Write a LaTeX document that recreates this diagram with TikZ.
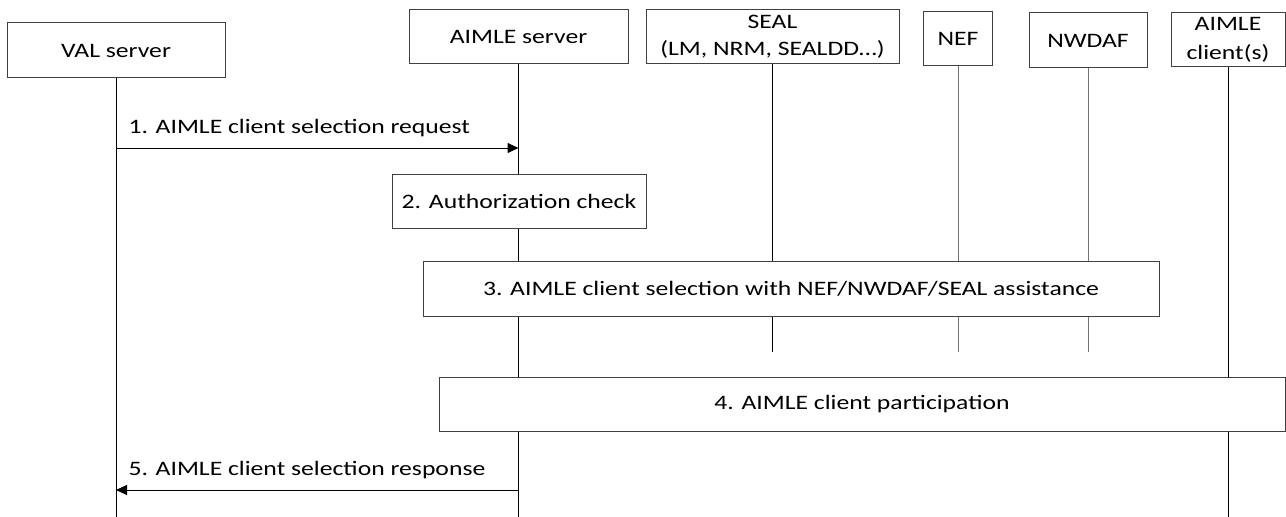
\documentclass[tikz,border=0pt]{standalone}
\usepackage{fontspec}
\setmainfont{Carlito}[FakeStretch=1.25]
\usetikzlibrary{arrows.meta}

\begin{document}
\begin{tikzpicture}[x=0.75pt,y=-0.75pt,>={Triangle[length=8.25pt,width=7.5pt]},
	font=\fontsize{15.4}{20.3}\selectfont,
	entity/.style={draw=black!75,fill=white,line width=0.75pt,align=center,inner sep=0pt},
	stepbox/.style={draw=black!75,fill=white,line width=0.75pt,inner sep=0pt},
	lifeline/.style={line width=0.75pt},
	greyline/.style={line width=0.75pt,draw=black!55},
	msglabel/.style={anchor=base west,inner sep=0pt,xshift=9pt,yshift=11.25pt}]
	\useasboundingbox (0,0) rectangle (1286,517);

	\node[entity,minimum width=163.5pt,minimum height=41.25pt] (VAL) at (116,50.5) {VAL server};
	\node[entity,minimum width=164.25pt,minimum height=40.5pt] (AIMLE) at (518.5,37) {AIMLE server};
	\node[entity,minimum width=189.75pt,minimum height=40.5pt] (SEAL) at (772.5,37) {SEAL\\(LM, NRM, SEALDD…)};
	\node[entity,minimum width=51.75pt,minimum height=40.5pt] (NEF) at (958,39) {NEF};
	\node[entity,minimum width=88.5pt,minimum height=41.25pt] (NWDAF) at (1088,40.5) {NWDAF};
	\node[entity,minimum width=85.5pt,minimum height=40.5pt,font=\fontsize{15.4}{22}\selectfont] (CLIENT) at (1228,40) {AIMLE\\client(s)};

	\coordinate (bottom) at (0,517);
	\coordinate (mid) at (0,352);
	\coordinate (m1) at (0,148);
	\coordinate (m5) at (0,490);

	\draw[lifeline] (VAL.south) -- (VAL.south |- bottom);
	\draw[lifeline] (AIMLE.south) -- (AIMLE.south |- bottom);
	\draw[lifeline] (SEAL.south) -- (SEAL.south |- mid);
	\draw[greyline] (NEF.south) -- (NEF.south |- mid);
	\draw[greyline] (NWDAF.south) -- (NWDAF.south |- mid);
	\draw[lifeline] (CLIENT.south) -- (CLIENT.south |- bottom);

	\draw[->,lifeline] (VAL.south |- m1) -- node[msglabel,pos=0] {1. AIMLE client selection request} (AIMLE.south |- m1);

	\node[stepbox,minimum width=190.5pt,minimum height=40.5pt] (AUTH) at (519,201) {2. Authorization check};
	\node[stepbox,minimum width=552pt,minimum height=41.25pt] (SELECT) at (791,288.5) {3. AIMLE client selection with NEF/NWDAF/SEAL assistance};
	\node[stepbox,minimum width=634.5pt,minimum height=40.5pt] (PART) at (862,404) {4. AIMLE client participation};

	\draw[->,lifeline] (AIMLE.south |- m5) -- node[msglabel,pos=1] {5. AIMLE client selection response} (VAL.south |- m5);
\end{tikzpicture}
\end{document}
